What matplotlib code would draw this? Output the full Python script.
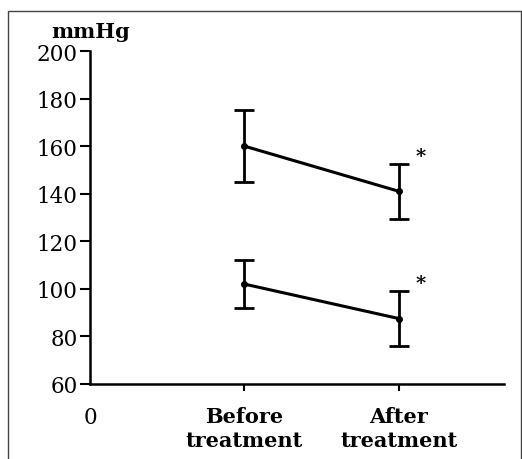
import matplotlib.pyplot as plt
from matplotlib.patches import Rectangle

# values
x_pos = [1, 2]
x_labels = ["0", "Before\ntreatment", "After\ntreatment"]
systolic = [160, 141]
systolic_err = [15, 11.5]
diastolic = [102, 87.5]
diastolic_err = [10, 11.5]
y_ticks = [60, 80, 100, 120, 140, 160, 180, 200]

plt.rcParams['font.family'] = ['DejaVu Serif']

fig = plt.figure(figsize=(5.22, 4.6), dpi=100)
ax = fig.add_axes([90/522, 75/460, 414/522, 333/460])

for mean, err in [(systolic, systolic_err), (diastolic, diastolic_err)]:
    ax.errorbar(x_pos, mean, yerr=err, color='black', lw=2.2, elinewidth=2,
                capsize=7, capthick=2, marker='o', ms=4)
    ax.text(x_pos[1] + 0.14, mean[1] + err[1] + 3.5, '*', fontsize=14,
            fontweight='bold', ha='center', va='center')

ax.set_xlim(0, 2.68)
ax.set_ylim(60, 200)
ax.set_yticks(y_ticks)
ax.set_yticklabels([str(v) for v in y_ticks], fontsize=15.5)
ax.set_xticks([0] + x_pos)
ax.set_xticklabels(x_labels, fontsize=15, linespacing=1.25)
for lab in ax.get_xticklabels()[1:]:
    lab.set_fontweight('bold')
ax.get_xticklabels()[0].set_fontsize(15.5)
ax.tick_params(axis='y', length=7, width=1.5, pad=2)
ax.tick_params(axis='x', length=5, width=1.5, pad=11)
ax.xaxis.get_major_ticks()[0].tick1line.set_visible(False)
for s in ['top', 'right']:
    ax.spines[s].set_visible(False)
for s in ['left', 'bottom']:
    ax.spines[s].set_linewidth(1.8)

fig.text(91/522, 1 - 32/460, 'mmHg', fontsize=15, fontweight='bold',
         ha='center', va='center')

# frame around the figure
fig.patches.append(Rectangle((8/522, -0.05), 513/522, 1 - 12/460 + 0.05,
                             transform=fig.transFigure, fill=False,
                             edgecolor='#444444', lw=1))

fig.savefig('out.png', dpi=100)
